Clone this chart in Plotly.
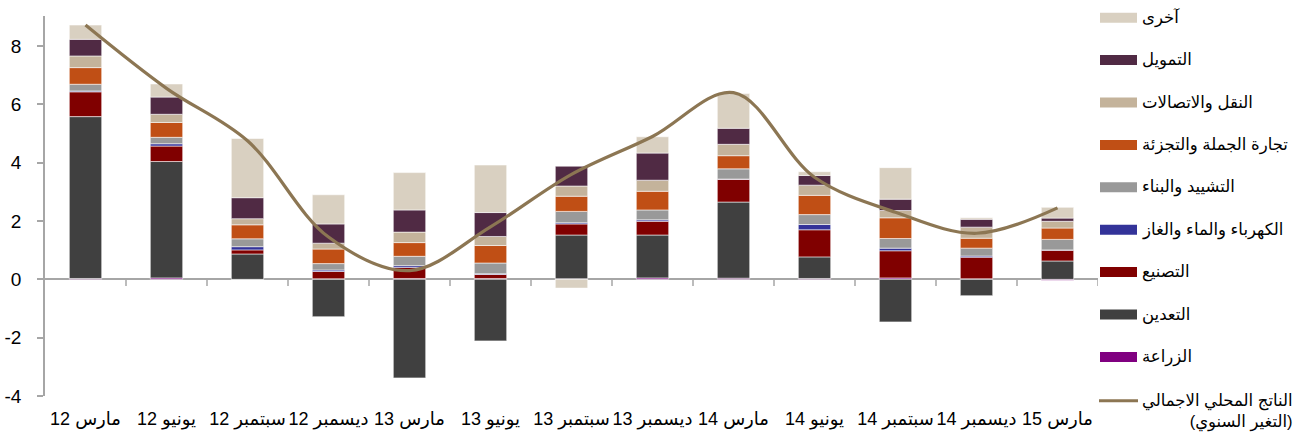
import plotly.graph_objects as go

categories = ["مارس 12", "يونيو 12", "سبتمبر 12", "ديسمبر 12", "مارس 13", "يونيو 13",
              "سبتمبر 13", "ديسمبر 13", "مارس 14", "يونيو 14", "سبتمبر 14", "ديسمبر 14", "مارس 15"]

agriculture   = [0.03, 0.05, 0.00, 0.02, 0.03, 0.03, 0.02, 0.05, 0.04, 0.03, 0.05, 0.02, -0.03]
mining        = [5.55, 3.99, 0.87, -1.28, -3.38, -2.11, 1.50, 1.47, 2.61, 0.74, -1.46, -0.56, 0.63]
manufacturing = [0.85, 0.53, 0.14, 0.25, 0.38, 0.14, 0.38, 0.47, 0.78, 0.93, 0.93, 0.74, 0.37]
electricity   = [0.03, 0.08, 0.11, 0.05, 0.06, 0.02, 0.04, 0.05, 0.01, 0.18, 0.09, 0.04, 0.01]
construction  = [0.23, 0.22, 0.27, 0.22, 0.32, 0.37, 0.39, 0.34, 0.35, 0.34, 0.33, 0.27, 0.36]
trade         = [0.57, 0.51, 0.48, 0.50, 0.47, 0.60, 0.52, 0.64, 0.45, 0.66, 0.71, 0.34, 0.39]
transport     = [0.40, 0.28, 0.21, 0.20, 0.36, 0.31, 0.35, 0.38, 0.39, 0.35, 0.25, 0.38, 0.23]
finance       = [0.57, 0.59, 0.72, 0.66, 0.76, 0.82, 0.68, 0.93, 0.55, 0.33, 0.39, 0.27, 0.11]
other         = [0.49, 0.45, 2.03, 1.00, 1.28, 1.63, -0.30, 0.56, 1.19, 0.13, 1.08, 0.05, 0.37]
gdp           = [8.72, 6.55, 4.75, 1.45, 0.30, 1.80, 3.60, 4.90, 6.40, 3.50, 2.30, 1.58, 2.45]

y_ticks = [-4, -2, 0, 2, 4, 6, 8]
y_tick_labels = ["-4", "-2", "0", "2", "4", "6", "8"]

series = [
    ("الزراعة", agriculture, "#800080"),
    ("التعدين", mining, "#404040"),
    ("التصنيع", manufacturing, "#800000"),
    ("الكهرباء والماء والغاز", electricity, "#333399"),
    ("التشييد والبناء", construction, "#999999"),
    ("تجارة الجملة والتجزئة", trade, "#C04F15"),
    ("النقل والاتصالات", transport, "#C4B39B"),
    ("التمويل", finance, "#502A44"),
    ("آخرى", other, "#D9D0C1"),
]
gdp_name = "الناتج المحلي الاجمالي<br>(التغير السنوي)"
gdp_color = "#8C7653"

FONT = "Liberation Sans, Arial, DejaVu Sans, sans-serif"
AXIS_COLOR = "#A6A6A6"

fig = go.Figure()
for name, vals, col in series:
    fig.add_trace(go.Bar(
        x=categories, y=vals, name=name, showlegend=False,
        marker=dict(color=col, line=dict(color="rgba(255,255,255,0.55)", width=1)),
    ))
fig.add_trace(go.Scatter(
    x=categories, y=gdp, name=gdp_name, mode="lines", showlegend=False,
    line=dict(color=gdp_color, width=3.2, shape="spline", smoothing=1.0),
))

W, H = 1298, 436
L, R, T, B = 45, 200, 16, 40
pw, ph = W - L - R, H - T - B

def px(p):
    return (p - L) / pw

def py(q):
    return (H - B - q) / ph

# category boundary tick marks on the zero line
for k in range(1, len(categories) + 1):
    fig.add_shape(type="line", xref="x", yref="y", x0=k - 0.5, x1=k - 0.5, y0=0, y1=-0.23,
                  line=dict(color=AXIS_COLOR, width=1.5))

# manual legend
row_y0 = 17.7
row_step = 42.4
legend_items = list(reversed(series))
for i, (name, vals, col) in enumerate(legend_items):
    cy = row_y0 + i * row_step
    fig.add_shape(type="rect", xref="paper", yref="paper",
                  x0=px(1100), x1=px(1137), y0=py(cy + 5), y1=py(cy - 5),
                  fillcolor=col, line=dict(width=0))
    fig.add_annotation(xref="paper", yref="paper", x=px(1140), y=py(cy), text=name,
                       showarrow=False, xanchor="left", yanchor="middle",
                       font=dict(family=FONT, size=16.5, color="#000000"))
cy = row_y0 + len(legend_items) * row_step + 1.5
fig.add_shape(type="line", xref="paper", yref="paper", x0=px(1099), x1=px(1138),
              y0=py(cy), y1=py(cy), line=dict(color=gdp_color, width=3))
fig.add_annotation(xref="paper", yref="paper", x=px(1140), y=py(cy - 12), text=gdp_name,
                   showarrow=False, xanchor="left", yanchor="top", align="right",
                   font=dict(family=FONT, size=16.5, color="#000000"))

fig.update_layout(
    width=W, height=H,
    margin=dict(l=L, r=R, t=T, b=B, pad=0, autoexpand=False),
    barmode="relative", bargap=0.6,
    plot_bgcolor="white", paper_bgcolor="white",
    font=dict(family=FONT, size=19, color="#000000"),
    xaxis=dict(type="category", range=[-0.5, len(categories) - 0.5], showgrid=False,
               showline=False, ticks="", ticklabelstandoff=10, zeroline=False,
               automargin=False, tickfont=dict(size=18)),
    yaxis=dict(range=[-4, 9.03], tickvals=y_ticks, ticktext=y_tick_labels,
               showgrid=False, showline=True, automargin=False,
               linecolor=AXIS_COLOR, linewidth=1.5, ticks="outside", ticklen=6,
               tickcolor=AXIS_COLOR, tickwidth=1.5, zeroline=True,
               zerolinecolor=AXIS_COLOR, zerolinewidth=1.5, ticklabelstandoff=12,
               tickfont=dict(size=19)),
)

fig.write_html("out.html")
